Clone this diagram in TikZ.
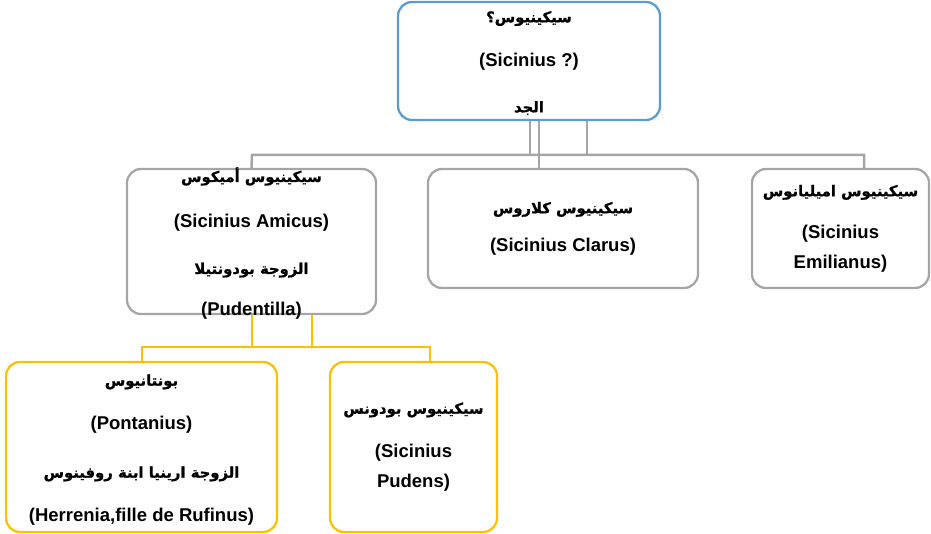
\documentclass[tikz,border=0pt]{standalone}
\usepackage{fontspec}
\setmainfont{Liberation Sans}
\newfontfamily\arabicfont[Script=Arabic,Scale=0.8,BoldFeatures={FakeBold=1}]{DejaVu Sans}
\TeXXeTstate=1
\newcommand{\ar}[1]{{\arabicfont\bfseries\beginR #1\endR}}

\definecolor{boxBlue}{RGB}{91,155,213}
\definecolor{boxGray}{RGB}{165,165,165}
\definecolor{boxGold}{RGB}{255,192,0}

\tikzset{
famBox/.style={draw=#1, rounded corners=14pt, line width=2.25pt, fill=white, inner sep=0pt},
famText/.style={align=center, inner sep=0pt, font=\fontsize{18.5}{22}\selectfont\bfseries},
grayLink/.style={draw=boxGray, line width=2.5pt},
goldLink/.style={draw=boxGold, line width=2.25pt}}

\begin{document}
\begin{tikzpicture}[x=1pt,y=1pt,yscale=-1,xscale=1]

    \useasboundingbox (0,0) rectangle (931,534);

    % junction points
    \coordinate (g1) at (530,155);
    \coordinate (jC) at (539,155);
    \coordinate (g3) at (587,155);
    \coordinate (jA) at (252,155);
    \coordinate (jE) at (864,155);
    \coordinate (o1) at (252,347);
    \coordinate (o2) at (312,347);
    \coordinate (jP) at (142,347);
    \coordinate (jD) at (430,347);

    % boxes
    \node[famBox=boxBlue, minimum width=262, minimum height=118] (grandpa) at (529,61) {};
    \node[famBox=boxGray, minimum width=249, minimum height=145] (amicus) at (251.5,241.5) {};
    \node[famBox=boxGray, minimum width=270, minimum height=119] (clarus) at (563,228.5) {};
    \node[famBox=boxGray, minimum width=177, minimum height=119] (emilianus) at (840.5,228.5) {};
    \node[famBox=boxGold, minimum width=271, minimum height=170] (pontanius) at (141.5,447) {};
    \node[famBox=boxGold, minimum width=167, minimum height=170] (pudens) at (413.5,447) {};

    % links
    \draw[grayLink] (grandpa.south -| g1) -- (g1);
    \draw[grayLink] (grandpa.south -| g3) -- (g3);
    \draw[grayLink] (grandpa.south -| jC) -- (clarus.north -| jC);
    \draw[grayLink] (amicus.north) -- (jA) -- (jE) -- (emilianus.north -| jE);
    \draw[goldLink] (amicus.south -| o1) -- (o1);
    \draw[goldLink] (amicus.south -| o2) -- (o2);
    \draw[goldLink] (pontanius.north -| jP) -- (jP) -- (jD) -- (pudens.north -| jD);

    % texts
    \node[famText] (grandpaText) at ([yshift=2]grandpa.center)
        {\ar{سيكينيوس؟}\\[22pt] (Sicinius ?)\\[24pt] \ar{الجد}};
    \node[famText] (amicusText) at ([yshift=2]amicus.center)
        {\ar{سيكينيوس أميكوس}\\[24pt] (Sicinius Amicus)\\[24pt]
         \ar{الزوجة بودونتيلا}\\[20pt] (Pudentilla)};
    \node[famText] (clarusText) at (clarus.center)
        {\ar{سيكينيوس كلاروس}\\[16pt] (Sicinius Clarus)};
    \node[famText] (emilianusText) at (emilianus.center)
        {\ar{سيكينيوس  اميليانوس}\\[20pt] (Sicinius\\[8pt] Emilianus)};
    \node[famText] (pontaniusText) at ([yshift=3]pontanius.center)
        {\ar{بونتانيوس}\\[22pt] (Pontanius)\\[26pt]
         \ar{الزوجة ارينيا ابنة روفينوس}\\[22pt] (Herrenia,fille de Rufinus)};
    \node[famText] (pudensText) at (pudens.center)
        {\ar{سيكينيوس بودونس}\\[22pt] (Sicinius\\[8pt] Pudens)};

\end{tikzpicture}
\end{document}
